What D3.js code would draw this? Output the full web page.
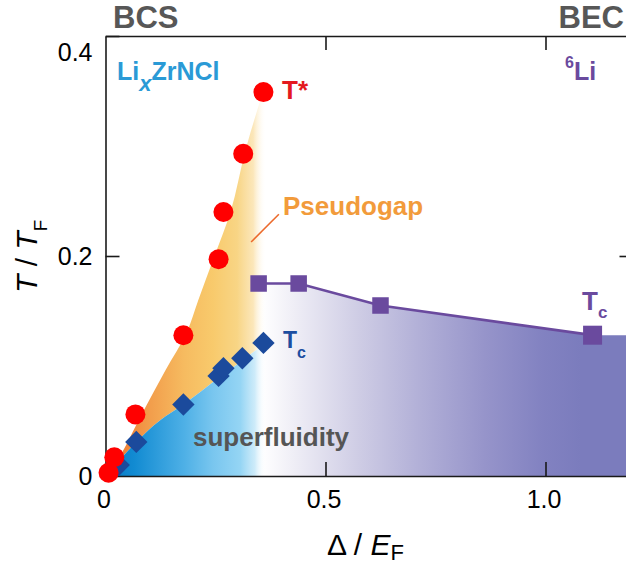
<!DOCTYPE html>
<html>
<head>
<meta charset="utf-8">
<script src="https://cdn.jsdelivr.net/npm/d3@7"></script>
<style>
  html, body { margin: 0; padding: 0; background: #fff; }
  svg { display: block; font-family: "Liberation Sans", Arial, Helvetica, sans-serif; }
</style>
</head>
<body>
<svg id="chart" width="626" height="571"></svg>
<script>
// T* (pseudogap onset) in LixZrNCl
const tStarDelta = [0.007, 0.020, 0.068, 0.177, 0.257, 0.268, 0.313, 0.359];
const tStarT     = [0.003, 0.017, 0.056, 0.128, 0.197, 0.240, 0.293, 0.349];

// Tc in LixZrNCl
const tcDelta = [0.030, 0.070, 0.177, 0.257, 0.268, 0.311, 0.359];
const tcT     = [0.010, 0.031, 0.065, 0.091, 0.098, 0.107, 0.121];

// Tc in 6Li
const liDelta = [0.348, 0.439, 0.625, 1.107];
const liTc    = [0.175, 0.175, 0.155, 0.128];

// Smoothed phase boundaries used for the shaded regions
const pseudogapEdgeDelta = [0.002, 0.027, 0.082, 0.136, 0.184, 0.211, 0.245, 0.284, 0.318, 0.357];
const pseudogapEdgeT     = [0.000, 0.0145, 0.056, 0.096, 0.130, 0.160, 0.197, 0.240, 0.296, 0.348];
const superfluidEdgeDelta = [0.002, 0.068, 0.125, 0.177, 0.257, 0.311, 0.361];
const superfluidEdgeT     = [0.000, 0.030, 0.051, 0.065, 0.089, 0.105, 0.120];

// Axis ticks
const xTicks = [0, 0.5, 1.0];
const xTickLabels = ["0", "0.5", "1.0"];
const yTicks = [0, 0.2, 0.4];
const yTickLabels = ["0", "0.2", "0.4"];

const svg = d3.select("#chart");
const x = d3.scaleLinear().domain([0, 1.2]).range([105.5, 633.5]);
const y = d3.scaleLinear().domain([0, 0.4]).range([476, 36]);

const zip = (a, b) => a.map((v, i) => [v, b[i]]);
const tStar = zip(tStarDelta, tStarT);
const tc = zip(tcDelta, tcT);
const li = zip(liDelta, liTc);
const pgEdge = zip(pseudogapEdgeDelta, pseudogapEdgeT);
const sfEdge = zip(superfluidEdgeDelta, superfluidEdgeT);

// ---- gradients ----
const defs = svg.append("defs");
function hGrad(id, x1, x2, stops) {
  const g = defs.append("linearGradient").attr("id", id)
    .attr("gradientUnits", "userSpaceOnUse")
    .attr("x1", x1).attr("x2", x2).attr("y1", 0).attr("y2", 0);
  stops.forEach(s => g.append("stop").attr("offset", s[0])
    .attr("stop-color", s[1]).attr("stop-opacity", s[2] === undefined ? 1 : s[2]));
}
const edgeX = x(0.365);
hGrad("gradPG", x(0), edgeX, [
  [0.00, "#ec7a30"], [0.10, "#ee8035"], [0.28, "#f29e4c"], [0.49, "#f6bb60"],
  [0.67, "#f8ca6c"], [0.82, "#f8d585"], [0.92, "#fbe4b2", 0.9], [1.00, "#ffffff", 0]
]);
hGrad("gradSF", x(0), edgeX, [
  [0.00, "#0577c1"], [0.18, "#128bd2"], [0.49, "#4eb0e6"], [0.67, "#79c6ef"],
  [0.84, "#95d5f4"], [0.93, "#c8e9f9", 0.9], [1.00, "#ffffff", 0]
]);
hGrad("gradLi", x(0.355), x(1.08), [
  [0.00, "#ffffff"], [0.10, "#efeef6"], [0.30, "#cfcde5"], [0.50, "#b1afd7"],
  [0.70, "#9694ca"], [0.88, "#8282c1"], [1.00, "#7b7cbd"]
]);

const line = d3.line().x(d => x(d[0])).y(d => y(d[1]));
const smooth = d3.line().x(d => x(d[0])).y(d => y(d[1])).curve(d3.curveMonotoneY);

// ---- 6Li superfluid region ----
const liLast = li[li.length - 1];
const liFill = [[li[0][0], 0], ...li, [x.domain()[1], liLast[1]], [x.domain()[1], 0]];
svg.append("path").attr("d", line(liFill) + "Z").attr("fill", "url(#gradLi)");

// ---- pseudogap region: between T* edge and Tc edge ----
const sfTop = sfEdge[sfEdge.length - 1];
const pgTop = pgEdge[pgEdge.length - 1];
const pgPath = smooth(pgEdge) +
  "L" + edgeX + "," + y(pgTop[1]) +
  "L" + edgeX + "," + y(sfTop[1]) +
  smooth(sfEdge.slice().reverse()).replace(/^M/, "L") + "Z";
svg.append("path").attr("d", pgPath).attr("fill", "url(#gradPG)");

// ---- LixZrNCl superfluid region ----
const sfPath = smooth(sfEdge) +
  "L" + edgeX + "," + y(sfTop[1]) +
  "L" + edgeX + "," + y(0) +
  "L" + x(0) + "," + y(0) + "Z";
svg.append("path").attr("d", sfPath).attr("fill", "url(#gradSF)");

// ---- frame and axes ----
const axisColor = "#1a1a1a";
const tickFont = 25;
function styleAxis(g) {
  g.selectAll(".domain").attr("stroke", axisColor).attr("stroke-width", 1.6);
  g.selectAll(".tick line").attr("stroke", axisColor).attr("stroke-width", 1.6);
  g.selectAll(".tick text").attr("fill", "#000").attr("font-size", tickFont)
    .attr("font-family", "'Liberation Sans', Arial, sans-serif");
}
const gx = svg.append("g").attr("transform", `translate(0,${y(0)})`)
  .call(d3.axisBottom(x).tickValues(xTicks).tickSizeInner(-14).tickSizeOuter(0)
    .tickPadding(14).tickFormat((d, i) => xTickLabels[i]));
styleAxis(gx);
gx.selectAll(".tick").filter(d => d === 0).select("line").remove();
gx.selectAll(".tick text").attr("dx", -2);

const gy = svg.append("g").attr("transform", `translate(${x(0)},0)`)
  .call(d3.axisLeft(y).tickValues(yTicks).tickSizeInner(-14).tickSizeOuter(0)
    .tickPadding(13).tickFormat((d, i) => yTickLabels[i]));
styleAxis(gy);
gy.selectAll(".tick").filter(d => d === 0).select("line").remove();
gy.selectAll(".tick").filter(d => d === 0.4).select("text").attr("dy", "0.96em");

const gt = svg.append("g").attr("transform", `translate(0,${y(0.4)})`)
  .call(d3.axisTop(x).tickValues([0.5, 1.0]).tickSizeInner(-14).tickSizeOuter(0).tickFormat(""));
styleAxis(gt);

const gr = svg.append("g").attr("transform", `translate(${x(1.2)},0)`)
  .call(d3.axisRight(y).tickValues([0.2]).tickSizeInner(-14).tickSizeOuter(0).tickFormat(""));
styleAxis(gr);

// ---- 6Li Tc line and squares ----
const liColor = "#6a4a9e";
svg.append("path").attr("d", line(li)).attr("fill", "none")
  .attr("stroke", liColor).attr("stroke-width", 2.7);
svg.selectAll("rect.li").data(li).join("rect").attr("class", "li")
  .each(function(d, i) {
    const s = i === li.length - 1 ? 19 : 16.5;
    d3.select(this).attr("x", x(d[0]) - s / 2).attr("y", y(d[1]) - s / 2)
      .attr("width", s).attr("height", s);
  })
  .attr("fill", liColor);

// ---- LixZrNCl Tc diamonds ----
const diamond = d3.symbol().type(d3.symbolSquare).size(250);
svg.selectAll("path.tc").data(tc).join("path").attr("class", "tc")
  .attr("d", diamond)
  .attr("transform", d => `translate(${x(d[0])},${y(d[1])}) rotate(45)`)
  .attr("fill", "#1b4a9c");

// ---- T* circles ----
svg.selectAll("circle.tstar").data(tStar).join("circle").attr("class", "tstar")
  .attr("cx", d => x(d[0])).attr("cy", d => y(d[1])).attr("r", 10)
  .attr("fill", "#ff0000");

// ---- leader line for the pseudogap label ----
svg.append("line")
  .attr("x1", x(0.331)).attr("y1", y(0.2127))
  .attr("x2", x(0.394)).attr("y2", y(0.238))
  .attr("stroke", "#ec6a2c").attr("stroke-width", 1.6);

// ---- text ----
function label(xp, yp, txt, opts) {
  const t = svg.append("text").attr("x", xp).attr("y", yp)
    .attr("font-size", opts.size).attr("font-weight", opts.weight || "bold")
    .attr("fill", opts.fill).attr("text-anchor", opts.anchor || "start");
  t.text(txt);
  return t;
}
label(113, 28, "BCS", {size: 31, fill: "#575757"});
label(624, 28, "BEC", {size: 31, fill: "#575757", anchor: "end"});

// LixZrNCl
const lz = svg.append("text").attr("x", 117).attr("y", 80)
  .attr("font-size", 25).attr("font-weight", "bold").attr("fill", "#2a9ad6");
lz.append("tspan").text("Li");
lz.append("tspan").attr("font-style", "italic").attr("font-size", 22).attr("dy", 11).text("x");
lz.append("tspan").attr("dy", -11).text("ZrNCl");

// 6Li
const sixLi = svg.append("text").attr("x", 565).attr("y", 80)
  .attr("font-weight", "bold").attr("fill", liColor);
sixLi.append("tspan").attr("font-size", 16).attr("dy", -12).text("6");
sixLi.append("tspan").attr("font-size", 25).attr("dy", 12).text("Li");

label(282, 99, "T*", {size: 26, fill: "#e4191f"});
label(283, 215, "Pseudogap", {size: 26, fill: "#f29b3b"});

const tcBlue = svg.append("text").attr("x", 283).attr("y", 348)
  .attr("font-weight", "bold").attr("fill", "#1c4ea0");
tcBlue.append("tspan").attr("font-size", 23).text("T");
tcBlue.append("tspan").attr("font-size", 16).attr("dy", 10).text("c");

const tcLi = svg.append("text").attr("x", 582).attr("y", 310)
  .attr("font-weight", "bold").attr("fill", liColor);
tcLi.append("tspan").attr("font-size", 26).text("T");
tcLi.append("tspan").attr("font-size", 17).attr("dy", 8).text("c");

label(193, 446, "superfluidity", {size: 26, fill: "#555555"});

// axis titles
const xt = svg.append("text").attr("x", 327).attr("y", 555)
  .attr("font-size", 30).attr("fill", "#000");
xt.append("tspan").text("\u0394 / ");
xt.append("tspan").attr("font-style", "italic").text("E");
xt.append("tspan").attr("font-size", 22).attr("dy", 5).text("F");

const yt = svg.append("text").attr("transform", "rotate(-90)")
  .attr("x", -293).attr("y", 37).attr("font-size", 30).attr("fill", "#000");
yt.append("tspan").attr("font-style", "italic").text("T");
yt.append("tspan").text(" / ");
yt.append("tspan").attr("font-style", "italic").text("T");
yt.append("tspan").attr("font-size", 19).attr("dy", 10).text("F");
</script>
</body>
</html>
